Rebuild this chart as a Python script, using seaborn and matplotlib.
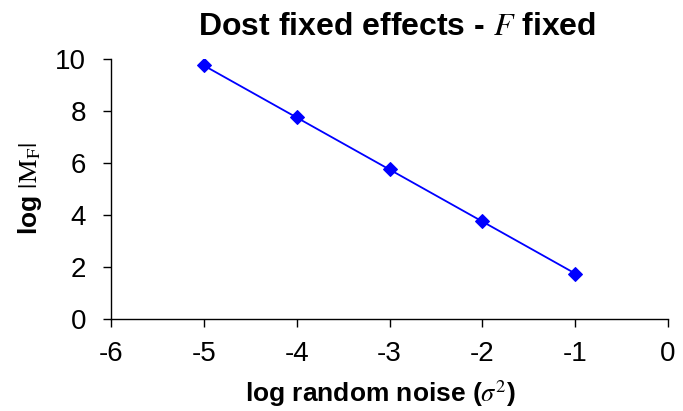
import matplotlib
matplotlib.use("Agg")
import matplotlib.pyplot as plt
import seaborn as sns
import pandas as pd

x_vals = [-5, -4, -3, -2, -1]
y_vals = [9.75, 7.75, 5.75, 3.75, 1.75]
x_ticks = [-6, -5, -4, -3, -2, -1, 0]
y_ticks = [0, 2, 4, 6, 8, 10]

sns.set_style("ticks")
plt.rcParams['font.family'] = ['Liberation Sans', 'DejaVu Sans']
plt.rcParams['mathtext.fontset'] = 'stix'
plt.rcParams['text.color'] = 'black'
plt.rcParams['axes.labelcolor'] = 'black'

df = pd.DataFrame({"x": x_vals, "y": y_vals})
fig = plt.figure(figsize=(6.83, 4.11), dpi=100)
ax = fig.add_axes([111/683, 1 - 319/411, 557/683, 260/411])
sns.lineplot(data=df, x="x", y="y", ax=ax, color="#0000FF", marker="D",
             markersize=7, markeredgecolor="#0000FF", linewidth=1.3)
ax.set_xlim(-6, 0)
ax.set_ylim(0, 10)
ax.set_xticks(x_ticks)
ax.set_yticks(y_ticks)
ax.set_xticklabels([str(t) for t in x_ticks])
ax.set_yticklabels([str(t) for t in y_ticks])
ax.tick_params(axis='both', labelsize=20, length=6, width=1, colors='black', direction='out')
ax.tick_params(axis='x', pad=10)
ax.tick_params(axis='y', pad=12)
for s in ['top', 'right']:
    ax.spines[s].set_visible(False)
for s in ['left', 'bottom']:
    ax.spines[s].set_color('black')
    ax.spines[s].set_linewidth(1)
ax.set_title(r"Dost fixed effects - $F$ fixed", fontsize=23, fontweight='bold', pad=17, x=0.5135)
ax.set_xlabel(r"log random noise ($\sigma^2$)", fontsize=19, fontweight='bold')
ax.set_ylabel(r"log $|\mathrm{M}_\mathrm{F}|$", fontsize=19, fontweight='bold', labelpad=8)
ax.xaxis.set_label_coords(0.483, -0.228)
fig.savefig("out.png", dpi=100)
